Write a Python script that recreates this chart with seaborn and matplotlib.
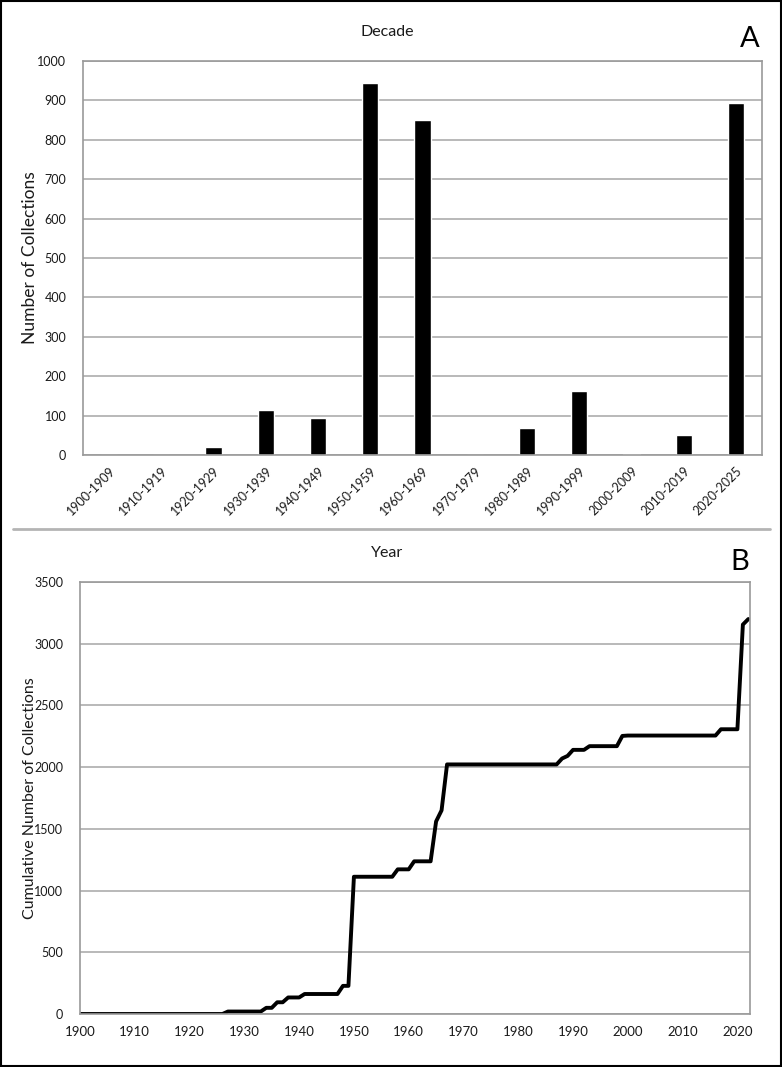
import seaborn as sns
import matplotlib.pyplot as plt
import pandas as pd
import numpy as np
from matplotlib.lines import Line2D

# -------------------------------
# Data
# -------------------------------
decades = ["1900-1909", "1910-1919", "1920-1929", "1930-1939", "1940-1949",
           "1950-1959", "1960-1969", "1970-1979", "1980-1989", "1990-1999",
           "2000-2009", "2010-2019", "2020-2025"]
decade_counts = [0, 0, 20, 114, 94, 944, 850, 0, 69, 162, 3, 51, 893]

years = list(range(1900, 2023))
cumulative = (
    [0] * 27                      # 1900-1926
    + [20] * 7                    # 1927-1933
    + [50, 50]                    # 1934-1935
    + [95, 95]                    # 1936-1937
    + [134, 134, 134]             # 1938-1940
    + [162] * 7                   # 1941-1947
    + [228, 228]                  # 1948-1949
    + [1112] * 8                  # 1950-1957
    + [1172, 1172, 1172]          # 1958-1960
    + [1237] * 4                  # 1961-1964
    + [1560, 1650]                # 1965-1966
    + [2022] * 21                 # 1967-1987
    + [2070, 2091]                # 1988-1989
    + [2140, 2140, 2140]          # 1990-1992
    + [2170] * 6                  # 1993-1998
    + [2253]                      # 1999
    + [2256] * 17                 # 2000-2016
    + [2307] * 4                  # 2017-2020
    + [3155, 3200]                # 2021-2022
)

bars = pd.DataFrame({"Decade": decades, "Count": decade_counts})
line = pd.DataFrame({"Year": years, "Cumulative": cumulative})

# -------------------------------
# Styling
# -------------------------------
sns.set_style("white")
plt.rcParams["font.family"] = ["Lato", "DejaVu Sans"]

W, H = 782, 1067
fig = plt.figure(figsize=(W / 100, H / 100), dpi=100)
fig.patch.set_facecolor("white")

grid_c = "#a6a6a6"
frame_c = "#9a9a9a"
text_c = "#1a1a1a"


def px_axes(left, top, right, bottom):
    return fig.add_axes([left / W, 1 - bottom / H, (right - left) / W, (bottom - top) / H])


def style_axes(ax):
    for s in ax.spines.values():
        s.set_color(frame_c)
        s.set_linewidth(1.2)
    ax.yaxis.grid(True, color=grid_c, linewidth=1.1)
    ax.xaxis.grid(False)
    ax.set_axisbelow(True)
    ax.tick_params(axis="y", length=0, pad=12, labelsize=9, labelcolor=text_c)


# ---- Panel A ----
ax1 = px_axes(83, 61, 762, 455)
sns.barplot(data=bars, x="Decade", y="Count", color="black", width=0.31,
            saturation=1, ax=ax1)
ax1.set_ylim(0, 1000)
ax1.set_xlim(-0.5, len(decades) - 0.5)
ax1.set_yticks(np.arange(0, 1001, 100))
style_axes(ax1)
ax1.tick_params(axis="x", length=0, pad=7, labelsize=9, labelcolor=text_c)
plt.setp(ax1.get_xticklabels(), rotation=45, ha="right", rotation_mode="anchor")
ax1.set_xlabel("")
ax1.set_ylabel("")
fig.text(30 / W, 1 - 258 / H, "Number of Collections", rotation=90,
         ha="center", va="center", fontsize=12.5, color=text_c)

fig.text(387 / W, 1 - 32 / H, "Decade", ha="center", va="center", fontsize=11.5, color=text_c)
fig.text(750 / W, 1 - 39 / H, "A", ha="center", va="center", fontsize=21, color="black")

# ---- Panel B ----
ax2 = px_axes(80, 582, 750, 1014)
sns.lineplot(data=line, x="Year", y="Cumulative", color="black", linewidth=2.8, ax=ax2)
ax2.set_xlim(1900, 2022.3)
ax2.set_ylim(0, 3500)
ax2.set_yticks(np.arange(0, 3501, 500))
ax2.set_xticks(np.arange(1900, 2021, 10))
style_axes(ax2)
ax2.tick_params(axis="x", direction="in", length=4, color=frame_c, pad=9,
                labelsize=9.5, labelcolor=text_c)
ax2.set_xlabel("")
ax2.set_ylabel("")
fig.text(30 / W, 1 - 798 / H, "Cumulative Number of Collections", rotation=90,
         ha="center", va="center", fontsize=11.5, color=text_c)

fig.text(387 / W, 1 - 553 / H, "Year", ha="center", va="center", fontsize=11.5, color=text_c)
fig.text(740 / W, 1 - 562 / H, "B", ha="center", va="center", fontsize=21, color="black")

# divider and outer frame
fig.add_artist(Line2D([13 / W, 770 / W], [1 - 529 / H, 1 - 529 / H],
                      color="#b4b4b4", linewidth=2, transform=fig.transFigure))
fig.add_artist(plt.Rectangle((0.001, 0.001), 0.998, 0.998, fill=False,
                             edgecolor="black", linewidth=1.5, transform=fig.transFigure))

plt.savefig("out.png", dpi=100)
plt.close()
